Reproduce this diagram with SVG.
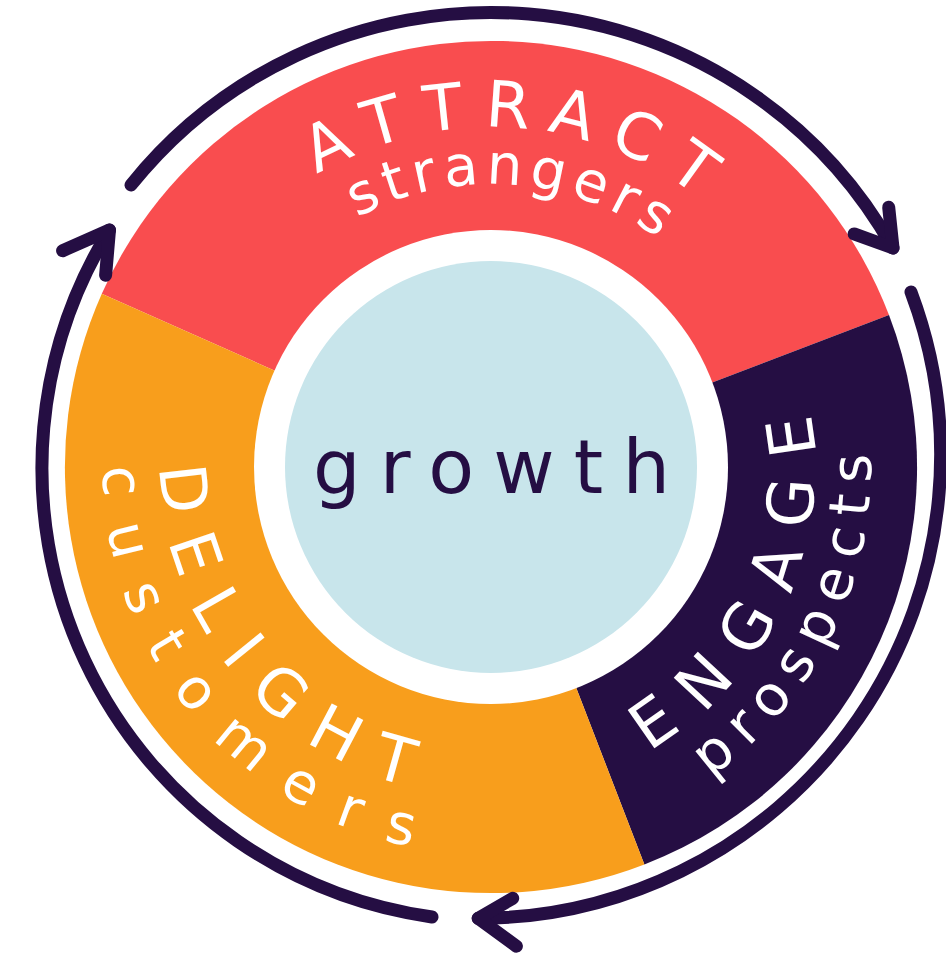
<svg xmlns="http://www.w3.org/2000/svg" width="946" height="953" viewBox="0 0 946 953">
<style>
.lbl{font-family:"DejaVu Sans","Open Sans",sans-serif;fill:#FFFFFF}
.cap{font-size:64px}
.low{font-size:56px}
.conn{fill:none;stroke:#250E43;stroke-width:13;stroke-linecap:round;stroke-linejoin:round}
</style>
<defs>
<path id="pAttract" d="M 171.5 350.7 A 340 340 0 0 1 825.8 408.0"/>
<path id="pStrangers" d="M 224.4 372.1 A 283 283 0 0 1 769.4 415.9"/>
<path id="pEngage" d="M 443.1 787.4 A 324 324 0 0 0 692.7 213.4"/>
<path id="pProspects" d="M 422.4 840.8 A 380 380 0 0 0 737.3 177.6"/>
<path id="pDelight" d="M 221.0 277.2 A 330 330 0 0 0 629.9 766.3"/>
<path id="pCustomers" d="M 168.2 251.7 A 388 388 0 0 0 662.9 814.8"/>
</defs>

<g id="attract">
<path d="M 491 467 L 101.8 293.7 A 426 426 0 0 1 889.0 315.0 Z" fill="#F94D4F"/>
<text class="lbl cap" letter-spacing="20"><textPath href="#pAttract" startOffset="50%" text-anchor="middle">ATTRACT</textPath></text>
<text class="lbl" font-size="56" letter-spacing="6.5"><textPath href="#pStrangers" startOffset="50%" text-anchor="middle">strangers</textPath></text>
</g>

<g id="engage">
<path d="M 491 467 L 889.0 315.0 A 426 426 0 0 1 644.4 864.5 Z" fill="#250E43"/>
<text class="lbl cap" letter-spacing="25.5"><textPath href="#pEngage" startOffset="50%" text-anchor="middle">ENGAGE</textPath></text>
<text class="lbl low" letter-spacing="13"><textPath href="#pProspects" startOffset="50%" text-anchor="middle">prospects</textPath></text>
</g>

<g id="delight">
<path d="M 491 467 L 644.4 864.5 A 426 426 0 0 1 101.8 293.7 Z" fill="#F89E1C"/>
<text class="lbl cap" letter-spacing="25.6"><textPath href="#pDelight" startOffset="50%" text-anchor="middle">DELIGHT</textPath></text>
<text class="lbl low" letter-spacing="29.6"><textPath href="#pCustomers" startOffset="50%" text-anchor="middle">customers</textPath></text>
</g>

<g id="growth">
<circle cx="491" cy="467" r="237" fill="#FFFFFF"/>
<circle cx="491" cy="467" r="206" fill="#C8E5EB"/>
<text x="491.5" y="493" text-anchor="middle" textLength="357" lengthAdjust="spacing" font-family="'DejaVu Sans','Open Sans',sans-serif" font-size="75" fill="#250E43">growth</text>
</g>

<g id="connectors">
<path class="conn" d="M 131 185 A 461.3 461.3 0 0 1 893 248"/>
<path class="conn" d="M 888.7 207.2 L 893 248 L 854.1 233.9"/>
<path class="conn" d="M 911 292 A 463.3 463.3 0 0 1 478.2 918.3"/>
<path class="conn" d="M 512.7 898.3 L 478.2 918.3 L 516.4 946.2"/>
<path class="conn" d="M 432 917 A 453.3 453.3 0 0 1 109.5 230"/>
<path class="conn" d="M 62.6 250.7 L 109.5 230 L 105.6 275.2"/>
</g>
</svg>
